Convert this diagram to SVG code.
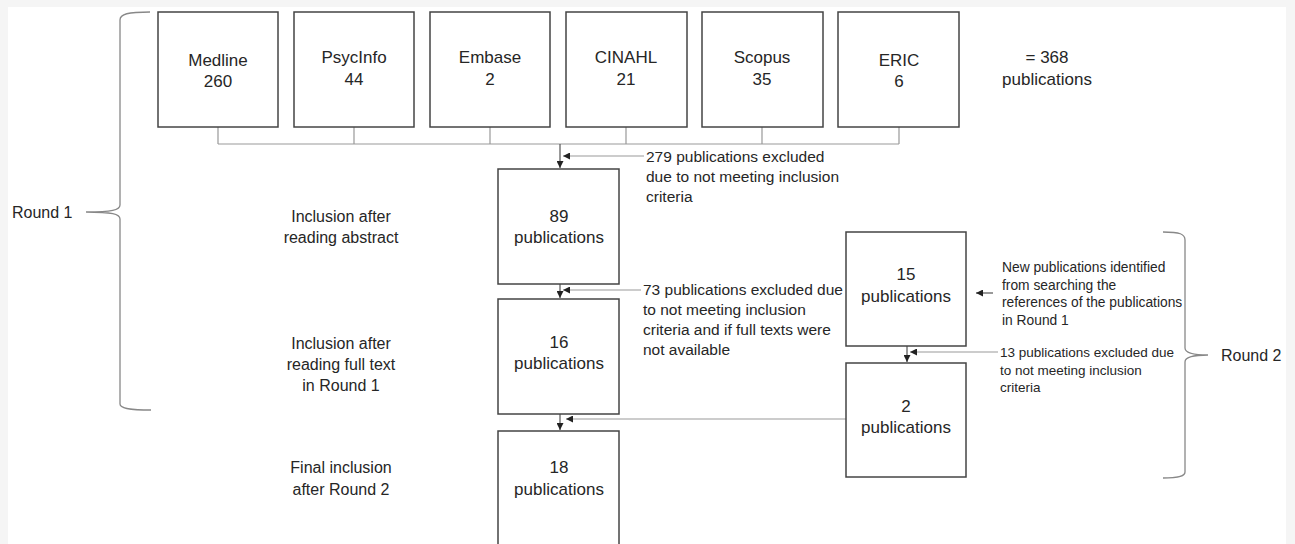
<svg xmlns="http://www.w3.org/2000/svg" width="1295" height="544" viewBox="0 0 1295 544">
<defs>
<style>
.box{fill:#fff;stroke:#444;stroke-width:1.5}
.t{font-family:"Liberation Sans",Arial,sans-serif;fill:#262626;text-anchor:middle}
.b{font-size:17px}
.l{font-size:16px}
.n{font-family:"Liberation Sans",Arial,sans-serif;fill:#262626;text-anchor:start}
.c{fill:none;stroke:#999;stroke-width:1.2}
.a{fill:none;stroke:#555;stroke-width:1.2}
.br{fill:none;stroke:#888;stroke-width:1.3}
</style>
<marker id="ah" viewBox="0 0 8 8" refX="8" refY="4" markerWidth="7" markerHeight="7" markerUnits="userSpaceOnUse" orient="auto">
<path d="M0,0 L8,4 L0,8 Z" fill="#222"/>
</marker>
</defs>
<rect x="0" y="0" width="1295" height="544" fill="#f5f5f5"/>
<rect x="8" y="7" width="1278" height="540" fill="#fff"/>

<g id="connectors">
<path class="c" d="M218,127 V144 M354,127 V144 M490,127 V144 M626,127 V144 M762,127 V144 M899,127 V144 M218,144 H899"/>
<path class="a" d="M560,144 V168" marker-end="url(#ah)"/>
<path class="c" d="M644,156 H563" marker-end="url(#ah)"/>
<path class="a" d="M560,284 V298" marker-end="url(#ah)"/>
<path class="c" d="M641,290 H563" marker-end="url(#ah)"/>
<path class="a" d="M560,414 V430" marker-end="url(#ah)"/>
<path class="c" d="M846,419 H566" marker-end="url(#ah)"/>
<path class="a" d="M907,346 V362" marker-end="url(#ah)"/>
<path class="c" d="M998,352 H910" marker-end="url(#ah)"/>
<path class="a" d="M993,293 H976" marker-end="url(#ah)"/>
</g>

<g id="medline"><rect class="box" x="158" y="12" width="120" height="115"/><text class="t b" x="218" y="66">Medline</text><text class="t b" x="218" y="87">260</text></g>
<g id="psycinfo"><rect class="box" x="294" y="12" width="120" height="115"/><text class="t b" x="354" y="63">PsycInfo</text><text class="t b" x="354" y="85">44</text></g>
<g id="embase"><rect class="box" x="430" y="12" width="120" height="115"/><text class="t b" x="490" y="63">Embase</text><text class="t b" x="490" y="85">2</text></g>
<g id="cinahl"><rect class="box" x="566" y="12" width="121" height="115"/><text class="t b" x="626" y="63">CINAHL</text><text class="t b" x="626" y="85">21</text></g>
<g id="scopus"><rect class="box" x="702" y="12" width="121" height="115"/><text class="t b" x="762" y="63">Scopus</text><text class="t b" x="762" y="85">35</text></g>
<g id="eric"><rect class="box" x="838" y="12" width="121" height="115"/><text class="t b" x="899" y="66">ERIC</text><text class="t b" x="899" y="87">6</text></g>
<g id="total"><text class="t b" x="1047" y="63">= 368</text><text class="t b" x="1047" y="85">publications</text></g>

<g id="box89"><rect class="box" x="498" y="169" width="121" height="115"/><text class="t b" x="559" y="222">89</text><text class="t b" x="559" y="243">publications</text></g>
<g id="box16"><rect class="box" x="498" y="299" width="121" height="115"/><text class="t b" x="559" y="348">16</text><text class="t b" x="559" y="369">publications</text></g>
<g id="box18"><rect class="box" x="498" y="431" width="121" height="118"/><text class="t b" x="559" y="473">18</text><text class="t b" x="559" y="495">publications</text></g>
<g id="box15"><rect class="box" x="846" y="232" width="120" height="114"/><text class="t b" x="906" y="280">15</text><text class="t b" x="906" y="302">publications</text></g>
<g id="box2"><rect class="box" x="846" y="363" width="120" height="114"/><text class="t b" x="906" y="412">2</text><text class="t b" x="906" y="433">publications</text></g>

<g id="excl279"><text class="n" font-size="15.5" x="646" y="162">279 publications excluded</text><text class="n" font-size="15.5" x="646" y="182">due to not meeting inclusion</text><text class="n" font-size="15.5" x="646" y="202">criteria</text></g>
<g id="excl73"><text class="n" font-size="15.5" x="643" y="295">73 publications excluded due</text><text class="n" font-size="15.5" x="643" y="315">to not meeting inclusion</text><text class="n" font-size="15.5" x="643" y="335">criteria and if full texts were</text><text class="n" font-size="15.5" x="643" y="355">not available</text></g>
<g id="newpubs"><text class="n" font-size="13.8" x="1002" y="272">New publications identified</text><text class="n" font-size="13.8" x="1002" y="289.5">from searching the</text><text class="n" font-size="13.8" x="1002" y="307">references of the publications</text><text class="n" font-size="13.8" x="1002" y="324.5">in Round 1</text></g>
<g id="excl13"><text class="n" font-size="13.5" x="1000" y="357">13 publications excluded due</text><text class="n" font-size="13.5" x="1000" y="374.5">to not meeting inclusion</text><text class="n" font-size="13.5" x="1000" y="392">criteria</text></g>

<g id="stage-labels">
<text class="t l" x="341" y="222">Inclusion after</text><text class="t l" x="341" y="243">reading abstract</text>
<text class="t l" x="341" y="349">Inclusion after</text><text class="t l" x="341" y="370">reading full text</text><text class="t l" x="341" y="391">in Round 1</text>
<text class="t l" x="341" y="473">Final inclusion</text><text class="t l" x="341" y="495">after Round 2</text>
</g>

<g id="round1"><path class="br" d="M150,12 C128,12 120,14 120,20 L120,205 C120,210 112,212 86,212 C112,212 120,214 120,219 L120,404 C120,408 128,410 151,410"/><text class="n" font-size="16" x="12" y="218">Round 1</text></g>
<g id="round2"><path class="br" d="M1163,232 C1180,232 1185,234 1185,240 L1185,348 C1185,352 1190,355 1208,355 C1190,355 1185,358 1185,362 L1185,472 C1185,476 1180,478 1163,478"/><text class="n" font-size="16" x="1221" y="361">Round 2</text></g>
</svg>
